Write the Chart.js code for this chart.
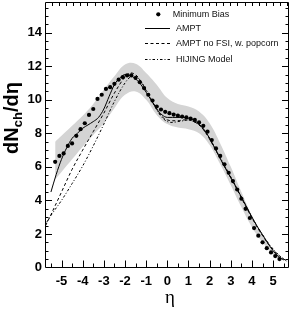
<!DOCTYPE html>
<html>
<head>
<meta charset="utf-8">
<script src="https://cdn.jsdelivr.net/npm/chart.js@4.4.1/dist/chart.umd.min.js"></script>
<style>
  html, body { margin: 0; padding: 0; background: #fff; }
  #wrap { width: 291px; height: 309px; }
</style>
</head>
<body>
<div id="wrap"><canvas id="dndeta" width="291" height="309"></canvas></div>
<script>
// ---- data ----
const etaPoints = [-5.3, -5.1, -4.9, -4.7, -4.5, -4.3, -4.1, -3.9, -3.7, -3.5, -3.3, -3.1, -2.9, -2.7, -2.5, -2.3, -2.1, -1.9,
  -1.7, -1.5, -1.3, -1.1, -0.9, -0.7, -0.5, -0.3, -0.1, 0.1, 0.3, 0.5, 0.7, 0.9, 1.1, 1.3, 1.5, 1.7, 1.9, 2.1,
  2.3, 2.5, 2.7, 2.9, 3.1, 3.3, 3.5, 3.7, 3.9, 4.1, 4.3, 4.5, 4.7, 4.9, 5.1, 5.3];
const minBias = [6.3, 6.65, 6.8, 7.25, 7.4, 7.85, 8.25, 8.6, 9.1, 9.45, 10.05, 10.3, 10.65, 10.75, 10.95, 11.2, 11.35, 11.45,
  11.45, 11.3, 11.05, 10.7, 10.3, 9.95, 9.6, 9.42, 9.28, 9.2, 9.12, 9.05, 9.0, 8.95, 8.88, 8.8, 8.65, 8.45, 8.1, 7.6,
  7.1, 6.65, 6.15, 5.65, 5.15, 4.65, 4.1, 3.5, 2.95, 2.35, 1.9, 1.5, 1.15, 0.9, 0.68, 0.5];

const bandEta = [-5.3, -5.0, -4.5, -4.0, -3.5, -3.0, -2.5, -2.0, -1.5, -1.0, -0.5, 0.0, 0.5, 1.0, 1.5, 2.0, 2.5, 3.0, 3.5, 4.0, 4.5, 5.0, 5.3];
const bandHigh = [7.5, 7.85, 8.45, 9.05, 9.75, 10.6, 11.4, 12.1, 12.15, 11.6, 10.9, 10.1, 9.75, 9.6, 9.3, 8.6, 7.4, 6.0, 4.5, 3.1, 1.95, 1.05, 0.7];
const bandLow = [5.25, 5.7, 6.45, 7.2, 7.9, 8.6, 9.5, 10.3, 10.5, 10.0, 9.1, 8.55, 8.35, 8.25, 8.0, 7.3, 6.15, 4.9, 3.6, 2.4, 1.5, 0.8, 0.45];

const amptEta = [-5.5, -5.25, -5.0, -4.75, -4.5, -4.25, -4.0, -3.75, -3.5, -3.25, -3.0, -2.75, -2.5, -2.25, -2.0, -1.75, -1.5,
  -1.25, -1.0, -0.75, -0.5, -0.25, 0.0, 0.25, 0.5, 0.75, 1.0, 1.25, 1.5, 1.75, 2.0, 2.25, 2.5, 2.75, 3.0, 3.25, 3.5,
  3.75, 4.0, 4.25, 4.5, 4.75, 5.0, 5.25, 5.5];
const ampt = [4.5, 5.55, 6.45, 7.15, 7.7, 8.0, 8.3, 8.5, 8.7, 8.95, 9.45, 10.2, 10.9, 11.3, 11.5, 11.45, 11.25,
  10.9, 10.45, 9.95, 9.45, 9.1, 8.95, 8.95, 8.95, 8.95, 8.9, 8.8, 8.55, 8.2, 7.7, 7.1, 6.5, 5.9, 5.35, 4.8, 4.2,
  3.6, 3.0, 2.45, 1.95, 1.45, 1.0, 0.65, 0.45];

const noFsiEta = [-5.75, -5.5, -5.0, -4.5, -4.0, -3.5, -3.0, -2.5, -2.0, -1.75, -1.5, -1.25, -1.0, -0.75, -0.5, -0.25, 0.0,
  0.25, 0.5, 0.75, 1.0, 1.25, 1.5, 1.75, 2.0, 2.5, 3.0, 3.5, 4.0, 4.5, 5.0, 5.5, 5.75];
const noFsi = [2.5, 3.15, 4.5, 5.85, 7.0, 8.1, 9.2, 10.4, 11.35, 11.6, 11.5, 11.1, 10.55, 10.0, 9.45, 9.0, 8.8,
  8.75, 8.75, 8.8, 8.8, 8.7, 8.5, 8.15, 7.65, 6.5, 5.35, 4.15, 2.95, 1.9, 1.05, 0.5, 0.35];

const hijingEta = [-5.7, -5.5, -5.0, -4.5, -4.0, -3.5, -3.0, -2.5, -2.0, -1.75, -1.5, -1.25, -1.0, -0.75, -0.5, -0.25, 0.0,
  0.25, 0.5, 0.75, 1.0, 1.25, 1.5, 1.75, 2.0, 2.5, 3.0, 3.5, 4.0, 4.5, 5.0, 5.5, 5.75];
const hijing = [2.7, 3.1, 4.0, 5.0, 6.05, 7.25, 8.55, 9.9, 11.0, 11.35, 11.4, 11.1, 10.6, 10.0, 9.4, 8.95, 8.7,
  8.65, 8.7, 8.75, 8.8, 8.7, 8.5, 8.15, 7.7, 6.55, 5.4, 4.2, 3.0, 1.95, 1.1, 0.5, 0.3];

const xTicks = [-5, -4, -3, -2, -1, 0, 1, 2, 3, 4, 5];
const yTicks = [0, 2, 4, 6, 8, 10, 12, 14];

const legendLabels = ["Minimum Bias", "AMPT", "AMPT no FSI, w. popcorn", "HIJING Model"];

function pairs(xs, ys) {
  return xs.map((x, i) => ({ x: x, y: ys[i] }));
}

// inward ticks + frame, ROOT style
const frameTicks = {
  id: "frameTicks",
  afterDraw(chart) {
    const ctx = chart.ctx, a = chart.chartArea;
    const xs = chart.scales.x, ys = chart.scales.y;
    ctx.save();
    ctx.strokeStyle = "#000";
    ctx.lineWidth = 1;
    ctx.beginPath();
    ctx.rect(Math.round(a.left) + 0.5, Math.round(a.top) + 0.5, Math.round(a.right - a.left) - 1, Math.round(a.bottom - a.top) - 1);
    ctx.stroke();
    ctx.beginPath();
    for (let v = -5.5; v <= 5.51; v += 0.5) {
      const px = Math.round(xs.getPixelForValue(v)) + 0.5;
      const len = Number.isInteger(v) ? 7 : 4;
      ctx.moveTo(px, a.bottom);
      ctx.lineTo(px, a.bottom - len);
    }
    for (let v = -5.46; v < 5.75; v += 0.3375) {
      const px = Math.round(xs.getPixelForValue(v)) + 0.5;
      ctx.moveTo(px, a.top);
      ctx.lineTo(px, a.top + 4);
    }
    for (let v = 0.5; v < 15.8; v += 0.5) {
      const py = Math.round(ys.getPixelForValue(v)) + 0.5;
      const len = v % 2 === 0 ? 7 : 3.5;
      ctx.moveTo(a.left, py);
      ctx.lineTo(a.left + len, py);
      ctx.moveTo(a.right, py);
      ctx.lineTo(a.right - len, py);
    }
    ctx.stroke();
    ctx.restore();
  }
};

// axis titles and legend drawn on the canvas
const annotations = {
  id: "annotations",
  afterDraw(chart) {
    const ctx = chart.ctx;
    ctx.save();
    ctx.fillStyle = "#000";
    // y title: dN_ch/dη, rotated
    ctx.translate(18, 118);
    ctx.rotate(-Math.PI / 2);
    const big1 = "dN", big2 = "/d\u03b7";
    ctx.font = "bold 13px 'Liberation Sans', Arial, sans-serif";
    const wSub = ctx.measureText("ch").width;
    ctx.font = "bold 20px 'Liberation Sans', Arial, sans-serif";
    const w1 = ctx.measureText(big1).width, w2 = ctx.measureText(big2).width;
    let x0 = -(w1 + wSub + w2) / 2;
    ctx.textBaseline = "alphabetic";
    ctx.fillText(big1, x0, 0);
    ctx.font = "bold 13px 'Liberation Sans', Arial, sans-serif";
    ctx.fillText("ch", x0 + w1, 4);
    ctx.font = "bold 20px 'Liberation Sans', Arial, sans-serif";
    ctx.fillText(big2, x0 + w1 + wSub, 0);
    ctx.restore();

    // x title
    ctx.save();
    ctx.fillStyle = "#000";
    ctx.font = "19px 'Liberation Serif', 'Times New Roman', serif";
    ctx.textAlign = "center";
    ctx.textBaseline = "middle";
    ctx.fillText("\u03b7", 170, 298);
    ctx.restore();

    // legend
    ctx.save();
    ctx.fillStyle = "#000";
    ctx.strokeStyle = "#000";
    ctx.lineWidth = 1;
    ctx.beginPath();
    ctx.arc(158.3, 14.3, 2.1, 0, Math.PI * 2);
    ctx.fill();
    const rows = [28.5, 43.5, 59.5];
    const dashes = [[], [3, 2.5], [2.5, 2, 1, 2]];
    rows.forEach((y, i) => {
      ctx.setLineDash(dashes[i]);
      ctx.beginPath();
      ctx.moveTo(145, y);
      ctx.lineTo(170, y);
      ctx.stroke();
    });
    ctx.setLineDash([]);
    ctx.font = "9px 'Liberation Sans', Arial, sans-serif";
    ctx.fillStyle = "#111";
    ctx.textBaseline = "middle";
    ctx.fillText(legendLabels[0], 172.7, 14.3);
    ctx.fillText(legendLabels[1], 176, 28.5);
    ctx.fillText(legendLabels[2], 176, 43.5);
    ctx.fillText(legendLabels[3], 176, 59.5);
    ctx.restore();
  }
};

const lineBase = { pointRadius: 0, borderColor: "#000", borderWidth: 1, fill: false, cubicInterpolationMode: "monotone" };

new Chart(document.getElementById("dndeta"), {
  type: "line",
  data: {
    datasets: [
      { label: legendLabels[0], data: pairs(etaPoints, minBias), showLine: false, pointRadius: 2.1,
        pointBackgroundColor: "#000", pointBorderWidth: 0, borderColor: "#000" },
      Object.assign({ label: legendLabels[1], data: pairs(amptEta, ampt) }, lineBase),
      Object.assign({ label: legendLabels[2], data: pairs(noFsiEta, noFsi), borderDash: [3, 2.5] }, lineBase),
      Object.assign({ label: legendLabels[3], data: pairs(hijingEta, hijing), borderDash: [2.5, 2, 1, 2] }, lineBase),
      { label: "band high", data: pairs(bandEta, bandHigh), pointRadius: 0, borderWidth: 0, borderColor: "rgba(0,0,0,0)",
        backgroundColor: "#d4d4d4", fill: "+1", tension: 0.4 },
      { label: "band low", data: pairs(bandEta, bandLow), pointRadius: 0, borderWidth: 0, borderColor: "rgba(0,0,0,0)",
        fill: false, tension: 0.4 }
    ]
  },
  options: {
    responsive: false,
    animation: false,
    devicePixelRatio: 1,
    layout: { autoPadding: false, padding: { left: 0, right: 2, top: 2, bottom: 0 } },
    plugins: { legend: { display: false }, tooltip: { enabled: false } },
    scales: {
      x: {
        type: "linear", min: -5.78, max: 5.75,
        grid: { display: false, drawTicks: false },
        border: { display: false },
        afterBuildTicks: (s) => { s.ticks = xTicks.map(v => ({ value: v })); },
        afterFit: (s) => { s.height = 41.5; s.paddingLeft = 0; s.paddingRight = 0; },
        ticks: { padding: 6, color: "#000", maxRotation: 0, autoSkip: false,
          font: { family: "'Liberation Sans', Arial, sans-serif", size: 13, weight: "bold" } }
      },
      y: {
        type: "linear", min: 0, max: 15.83,
        grid: { display: false, drawTicks: false },
        border: { display: false },
        afterBuildTicks: (s) => { s.ticks = yTicks.map(v => ({ value: v })); },
        afterFit: (s) => { s.width = 45; s.paddingTop = 0; s.paddingBottom = 0; },
        ticks: { padding: 3, color: "#000", autoSkip: false,
          font: { family: "'Liberation Sans', Arial, sans-serif", size: 13, weight: "bold" } }
      }
    }
  },
  plugins: [frameTicks, annotations]
});
</script>
</body>
</html>
